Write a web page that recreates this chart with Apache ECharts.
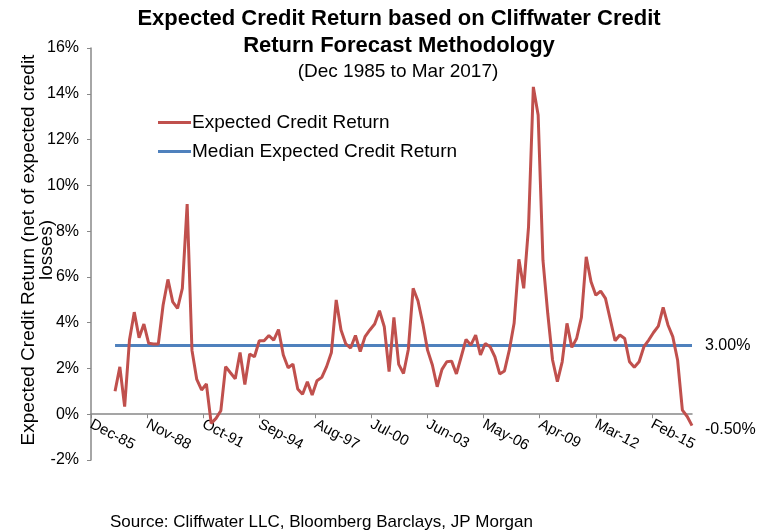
<!DOCTYPE html>
<html>
<head>
<meta charset="utf-8">
<script src="https://cdn.jsdelivr.net/npm/echarts@6/dist/echarts.min.js"></script>
<style>
html,body{margin:0;padding:0;background:#fff;}
#c{width:765px;height:532px;}
</style>
</head>
<body>
<div id="c"></div>
<script>
// ---- data ----
const titleLines = ['Expected Credit Return based on Cliffwater Credit', 'Return Forecast Methodology'];
const subtitle = '(Dec 1985 to Mar 2017)';
const sourceText = 'Source: Cliffwater LLC, Bloomberg Barclays, JP Morgan';
const yAxisName = 'Expected Credit Return (net of expected credit\nlosses)';
const seriesNames = ['Expected Credit Return', 'Median Expected Credit Return'];
const monthNames = ['Jan','Feb','Mar','Apr','May','Jun','Jul','Aug','Sep','Oct','Nov','Dec'];
const axisStart = { year: 1985, month: 11 };   // Dec-85
const axisMonths = 376;                         // Dec-85 .. Mar-17
const labelEvery = 35;                          // Dec-85, Nov-88, Oct-91 ...
const firstDataMonth = 'Mar-87';
const stepMonths = 3;                           // quarterly values
// expected credit return (%), quarterly
const expected = [
  1.0, 2.07, 0.33, 3.24, 4.46, 3.34, 3.94, 3.1, 3.07, 3.07,
  4.77, 5.89, 4.91, 4.62, 5.5, 9.18, 2.8, 1.52, 1.06, 1.32,
  -0.4, -0.18, 0.15, 2.08, 1.81, 1.55, 2.7, 1.3, 2.63, 2.51,
  3.21, 3.21, 3.44, 3.24, 3.7, 2.59, 2.03, 2.19, 1.1, 0.87,
  1.42, 0.84, 1.46, 1.61, 2.08, 2.7, 4.99, 3.68, 3.07, 2.89,
  3.44, 2.74, 3.39, 3.68, 3.94, 4.52, 3.82, 1.86, 4.23, 2.18,
  1.78, 2.83, 5.5, 4.96, 3.97, 2.8, 2.15, 1.2, 1.96, 2.29,
  2.32, 1.76, 2.51, 3.27, 3.02, 3.46, 2.59, 3.09, 2.95, 2.51,
  1.76, 1.89, 2.8, 3.97, 6.77, 5.5, 8.19, 14.3, 13.07, 6.73,
  4.4, 2.37, 1.42, 2.29, 3.97, 2.92, 3.31, 4.23, 6.88, 5.79,
  5.2, 5.38, 5.06, 4.14, 3.21, 3.46, 3.31, 2.29, 2.05, 2.29,
  2.95, 3.24, 3.57, 3.85, 4.67, 3.9, 3.39, 2.37, 0.18, -0.1,
  -0.5
];
const medianValue = 3.0;
const yMin = -2, yMax = 16, yStep = 2;

// ---- build ----
const months = [];
for (let k = 0; k < axisMonths; k++) {
  const t = axisStart.month + k;
  const m = t % 12;
  const y = axisStart.year + Math.floor(t / 12);
  months.push(monthNames[m] + '-' + String(y % 100).padStart(2, '0'));
}
const startIdx = months.indexOf(firstDataMonth);
const expData = expected.map((v, i) => [months[startIdx + stepMonths * i], v]);
const medData = expected.map((v, i) => [months[startIdx + stepMonths * i], medianValue]);

const FONT = 'Liberation Sans, Arial, Helvetica, sans-serif';
const RED = '#C0504D', BLUE = '#4F81BD', AXIS = '#888888';

const gridTop = 48, gridBottom = 72, H = 532;
const plotH = H - gridTop - gridBottom;
const zeroOffset = -plotH * (0 - yMin) / (yMax - yMin);  // move x axis up to the 0 line

const chart = echarts.init(document.getElementById('c'), null, { renderer: 'canvas' });
chart.setOption({
  animation: false,
  backgroundColor: '#ffffff',
  textStyle: { fontFamily: FONT, color: '#000' },
  graphic: [
    { type: 'text', x: 399, y: 19, style: { text: titleLines[0], font: 'bold 22px ' + FONT, fill: '#000', textAlign: 'center', textVerticalAlign: 'middle' } },
    { type: 'text', x: 399, y: 46, style: { text: titleLines[1], font: 'bold 22px ' + FONT, fill: '#000', textAlign: 'center', textVerticalAlign: 'middle' } },
    { type: 'text', x: 398, y: 72, style: { text: subtitle, font: '19px ' + FONT, fill: '#000', textAlign: 'center', textVerticalAlign: 'middle' } },
    { type: 'text', x: 110, y: 522, style: { text: sourceText, font: '17px ' + FONT, fill: '#000', textAlign: 'left', textVerticalAlign: 'middle' } },
    { type: 'text', x: 38, y: 250, rotation: Math.PI / 2,
      style: { text: yAxisName, font: '19px ' + FONT, lineHeight: 18, fill: '#000', textAlign: 'center', textVerticalAlign: 'middle' } }
  ],
  legend: {
    orient: 'vertical',
    left: 153,
    top: 108,
    itemGap: 10,
    itemWidth: 33,
    itemHeight: 3,
    icon: 'rect',
    textStyle: { fontFamily: FONT, fontSize: 19, color: '#000', padding: [0, 0, 0, -4] },
    data: seriesNames
  },
  grid: { left: 91, right: 73, top: gridTop, bottom: gridBottom, containLabel: false, outerBoundsMode: 'none' },
  xAxis: {
    type: 'category',
    data: months,
    boundaryGap: false,
    offset: zeroOffset,
    axisLine: { onZero: false, lineStyle: { color: AXIS, width: 1.5 } },
    axisTick: { show: true, interval: labelEvery - 1, length: 4, lineStyle: { color: AXIS } },
    axisLabel: { interval: labelEvery - 1, rotate: -28, fontSize: 15, color: '#000', fontFamily: FONT, margin: 9 },
    splitLine: { show: false }
  },
  yAxis: {
    type: 'value',
    min: yMin, max: yMax, interval: yStep,
    axisLine: { show: true, lineStyle: { color: AXIS, width: 1.5 } },
    axisTick: { show: true, length: 4, lineStyle: { color: AXIS } },
    axisLabel: { formatter: v => v + '%', fontSize: 16, color: '#000', fontFamily: FONT, margin: 12 },
    splitLine: { show: false }
  },
  series: [
    {
      name: seriesNames[0], type: 'line', data: expData,
      showSymbol: false, symbol: 'none',
      lineStyle: { color: RED, width: 3 }, itemStyle: { color: RED },
      endLabel: { show: true, formatter: p => p.value[1].toFixed(2) + '%', fontSize: 16, color: '#000', fontFamily: FONT, distance: 13, offset: [0, 4] },
      z: 3
    },
    {
      name: seriesNames[1], type: 'line', data: medData,
      showSymbol: false, symbol: 'none',
      lineStyle: { color: BLUE, width: 3 }, itemStyle: { color: BLUE },
      endLabel: { show: true, formatter: p => p.value[1].toFixed(2) + '%', fontSize: 16, color: '#000', fontFamily: FONT, distance: 13 },
      z: 2
    }
  ]
});
</script>
</body>
</html>
